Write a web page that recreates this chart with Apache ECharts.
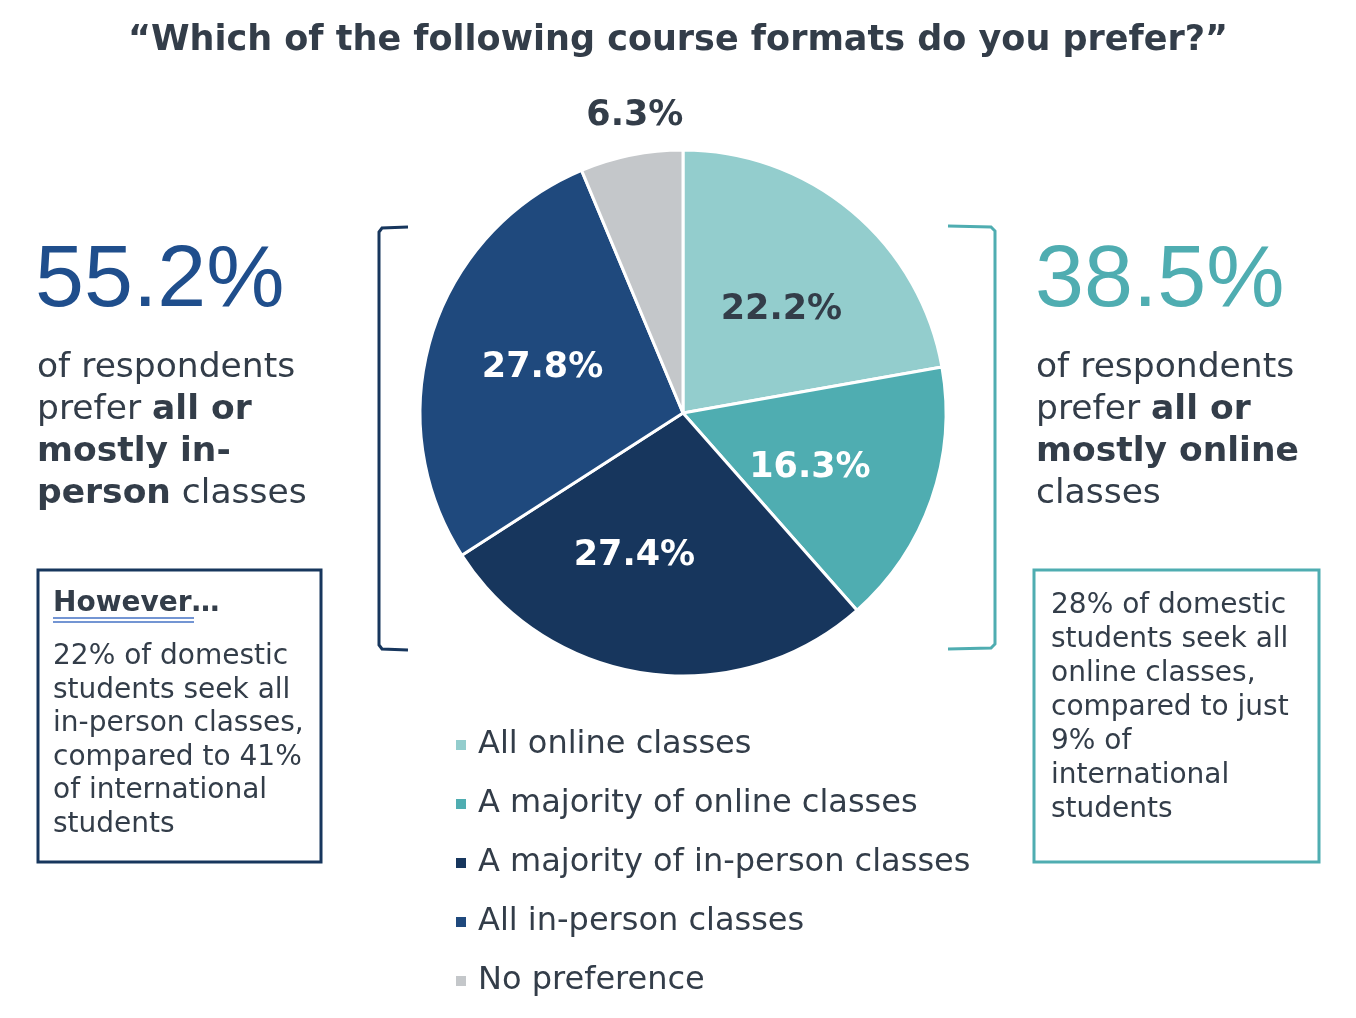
<!DOCTYPE html>
<html>
<head>
<meta charset="utf-8">
<script src="https://cdn.jsdelivr.net/npm/echarts@6/dist/echarts.min.js"></script>
<style>
  html, body { margin: 0; padding: 0; background: #fff; }
  #main { width: 1356px; height: 1018px; }
</style>
</head>
<body>
<div id="main"></div>
<script>
var categories = ['All online classes', 'A majority of online classes', 'A majority of in-person classes', 'All in-person classes', 'No preference'];
var shares = [22.2, 16.3, 27.4, 27.8, 6.3];
var sliceColors = ['#93cdcd', '#4fadb1', '#17365d', '#1f497d', '#c4c7ca'];
var labelColors = ['#333d49', '#ffffff', '#ffffff', '#ffffff', '#333d49'];

var inPersonTotal = '55.2%';
var onlineTotal = '38.5%';

var textDark = '#333d49';
var navy = '#17365d';
var teal = '#4fadb1';
var bodyFont = '"DejaVu Sans", Verdana, sans-serif';
var bigFont = 'normal 88px "Liberation Sans", Arial, sans-serif';

// small nudges so the inside labels sit where the original placed them
// (left/right via padding, up/down via an empty line of given height)
var labelPadding = [[0, 0, 0, 24], [0, 0, 0, 0], [0, 60, 0, 0], [0, 24, 0, 0], [0, 0, 0, 0]];
var labelFormat = ['{c}%', '\n{c}%', '\n{c}%', '{c}%\n', '{c}%'];
var labelLineHeight = [40, 22, 20, 10, 40];

var myChart = echarts.init(document.getElementById('main'));

var pieData = [];
for (var i = 0; i < categories.length; i++) {
    var item = {
        name: categories[i],
        value: shares[i],
        itemStyle: { color: sliceColors[i] },
        label: {
            color: labelColors[i],
            padding: labelPadding[i],
            formatter: labelFormat[i],
            lineHeight: labelLineHeight[i]
        }
    };
    if (i === 4) { // small grey slice: label sits outside, no line
        item.label.position = 'outside';
        item.label.distanceToLabelLine = -60;
        item.labelLine = { show: false, length: 40, length2: 0 };
    }
    pieData.push(item);
}

option = {
    backgroundColor: '#ffffff',
    title: {
        text: '\u201CWhich of the following course formats do you prefer?\u201D',
        left: 'center',
        top: 21,
        padding: 0,
        textStyle: {
            fontFamily: bodyFont,
            fontSize: 35,
            fontWeight: 'bold',
            color: textDark,
            lineHeight: 40
        }
    },
    legend: {
        orient: 'vertical',
        left: 449,
        top: 723,
        icon: 'rect',
        itemWidth: 12,
        itemHeight: 12,
        itemGap: 25,
        selectedMode: false,
        textStyle: {
            fontFamily: bodyFont,
            fontSize: 32,
            color: textDark,
            lineHeight: 34,
            padding: [0, 0, 0, 6]
        },
        data: categories
    },
    series: [{
        name: 'Course format',
        type: 'pie',
        center: [683, 413],
        radius: [0, 263],
        startAngle: 90,
        clockwise: true,
        avoidLabelOverlap: false,
        itemStyle: {
            borderColor: '#ffffff',
            borderWidth: 3
        },
        label: {
            show: true,
            position: 'inside',
            fontFamily: bodyFont,
            fontSize: 35,
            fontWeight: 'bold'
        },
        labelLine: { show: false },
        emphasis: { disabled: true },
        data: pieData
    }],
    graphic: [
        // left call-out
        {
            type: 'text', x: 35, y: 238,
            style: { text: inPersonTotal, font: bigFont, fill: '#1f4e8c', verticalAlign: 'top' }
        },
        {
            type: 'text', x: 37, y: 347,
            style: {
                text: 'of respondents\nprefer {b|all or}\n{b|mostly in-}\n{b|person} classes',
                font: 'normal 34.5px ' + bodyFont, fill: textDark, lineHeight: 42, verticalAlign: 'top',
                rich: { b: { fontFamily: bodyFont, fontSize: 34.5, fontWeight: 'bold', fill: textDark, lineHeight: 42 } }
            }
        },
        {
            type: 'rect',
            shape: { x: 38, y: 570, width: 283, height: 292 },
            style: { fill: 'none', stroke: navy, lineWidth: 3 }
        },
        {
            type: 'text', x: 53, y: 604,
            style: { text: 'However\u2026', font: 'bold 28px ' + bodyFont, fill: textDark, verticalAlign: 'middle' }
        },
        { type: 'line', shape: { x1: 53, y1: 618, x2: 194, y2: 618 }, style: { stroke: '#4472c4', lineWidth: 1.5 } },
        { type: 'line', shape: { x1: 53, y1: 622, x2: 194, y2: 622 }, style: { stroke: '#4472c4', lineWidth: 1.5 } },
        {
            type: 'text', x: 53, y: 640,
            style: {
                text: '22% of domestic\nstudents seek all\nin-person classes,\ncompared to 41%\nof international\nstudents',
                font: 'normal 28px ' + bodyFont, fill: textDark, lineHeight: 33.6, verticalAlign: 'top'
            }
        },
        {
            type: 'polyline',
            shape: { points: [[408, 227], [382, 228], [379, 232], [379, 645], [382, 649], [408, 650]] },
            style: { fill: 'none', stroke: navy, lineWidth: 3 }
        },

        // right call-out
        {
            type: 'text', x: 1035, y: 238,
            style: { text: onlineTotal, font: bigFont, fill: teal, verticalAlign: 'top' }
        },
        {
            type: 'text', x: 1036, y: 347,
            style: {
                text: 'of respondents\nprefer {b|all or}\n{b|mostly online}\nclasses',
                font: 'normal 34.5px ' + bodyFont, fill: textDark, lineHeight: 42, verticalAlign: 'top',
                rich: { b: { fontFamily: bodyFont, fontSize: 34.5, fontWeight: 'bold', fill: textDark, lineHeight: 42 } }
            }
        },
        {
            type: 'rect',
            shape: { x: 1034, y: 570, width: 285, height: 292 },
            style: { fill: 'none', stroke: teal, lineWidth: 3 }
        },
        {
            type: 'text', x: 1051, y: 589,
            style: {
                text: '28% of domestic\nstudents seek all\nonline classes,\ncompared to just\n9% of\ninternational\nstudents',
                font: 'normal 28px ' + bodyFont, fill: textDark, lineHeight: 34, verticalAlign: 'top'
            }
        },
        {
            type: 'polyline',
            shape: { points: [[948, 226], [991, 227], [995, 231], [995, 644], [991, 648], [948, 649]] },
            style: { fill: 'none', stroke: teal, lineWidth: 3 }
        }
    ]
};
myChart.setOption(option);
</script>
</body>
</html>
